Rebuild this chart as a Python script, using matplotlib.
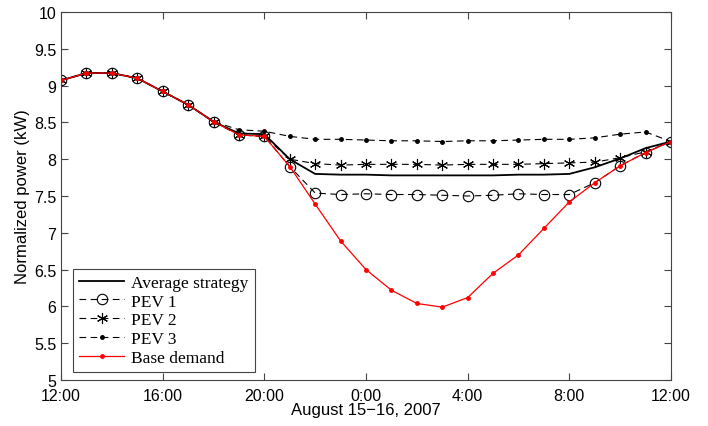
import numpy as np
import matplotlib
matplotlib.use("Agg")
import matplotlib.pyplot as plt

# horas a partir das 12:00 do dia 15
horas = np.arange(25)

base_demand = [9.07, 9.17, 9.17, 9.10, 8.92, 8.74, 8.51, 8.33, 8.31, 7.90, 7.39,
               6.89, 6.50, 6.22, 6.04, 5.99, 6.12, 6.45, 6.70, 7.06, 7.42, 7.68,
               7.91, 8.09, 8.24]
media = [9.07, 9.17, 9.17, 9.10, 8.92, 8.74, 8.51, 8.35, 8.34, 8.00, 7.80,
         7.79, 7.79, 7.78, 7.78, 7.78, 7.78, 7.78, 7.79, 7.79, 7.80, 7.89,
         8.01, 8.15, 8.24]
pev1 = [9.07, 9.17, 9.17, 9.10, 8.92, 8.74, 8.51, 8.33, 8.31, 7.90, 7.54,
        7.52, 7.53, 7.52, 7.52, 7.51, 7.50, 7.51, 7.53, 7.52, 7.52, 7.68,
        7.91, 8.09, 8.24]
pev2 = [9.07, 9.17, 9.17, 9.10, 8.92, 8.74, 8.51, 8.33, 8.31, 8.00, 7.94,
        7.92, 7.93, 7.93, 7.93, 7.92, 7.93, 7.93, 7.93, 7.94, 7.95, 7.96,
        8.02, 8.10, 8.24]
pev3 = [9.07, 9.17, 9.17, 9.10, 8.92, 8.74, 8.51, 8.40, 8.38, 8.31, 8.27,
        8.27, 8.26, 8.25, 8.25, 8.24, 8.25, 8.25, 8.26, 8.27, 8.27, 8.29,
        8.34, 8.37, 8.24]

rotulos_x = ["12:00", "16:00", "20:00", "0:00", "4:00", "8:00", "12:00"]

plt.rcParams["font.family"] = "Liberation Sans"

fig = plt.figure(figsize=(7.08, 4.27), dpi=100)
ax = fig.add_axes([0.0862, 0.1077, 0.8615, 0.8619])

ax.plot(horas, media, color="black", linewidth=1.3, label="Average strategy")
ax.plot(horas, pev1, color="black", linestyle=(0, (6, 4)), linewidth=0.8,
        marker="o", markersize=7.5, markerfacecolor="none", markeredgewidth=0.8,
        label="PEV 1")
ax.plot(horas, pev2, color="black", linestyle=(0, (6, 4)), linewidth=0.8,
        marker=(6, 2, 0), markersize=8, markeredgewidth=0.8, label="PEV 2")
ax.plot(horas, pev3, color="black", linestyle=(0, (6, 4)), linewidth=0.8,
        marker=".", markersize=5, label="PEV 3")
ax.plot(horas, base_demand, color="red", linewidth=0.9,
        marker=".", markersize=5, label="Base demand")

ax.set_xlim(0, 24)
ax.set_ylim(5, 10)
ax.set_xticks(np.arange(0, 25, 4))
ax.set_xticklabels(rotulos_x)
ax.set_yticks(np.arange(5, 10.01, 0.5))
ax.set_yticklabels(["%g" % v for v in np.arange(5, 10.01, 0.5)])
ax.tick_params(direction="in", top=True, right=True, labelsize=11.5,
               length=5, color="#444444")
ax.tick_params(axis="x", pad=6)
for s in ax.spines.values():
    s.set_color("#444444")

ax.set_xlabel("August 15\u221216, 2007", fontsize=12, labelpad=-1)
ax.set_ylabel("Normalized power (kW)", fontsize=12, labelpad=3)

leg = ax.legend(loc="lower left", bbox_to_anchor=(0.02, 0.022), borderaxespad=0,
                numpoints=1, handlelength=2.6, fancybox=False, framealpha=1,
                edgecolor="#444444", prop={"family": "Liberation Serif", "size": 12.5},
                labelspacing=0.15, borderpad=0.35, handletextpad=0.4)
leg.get_frame().set_linewidth(0.8)

plt.savefig("out.png", dpi=100)
